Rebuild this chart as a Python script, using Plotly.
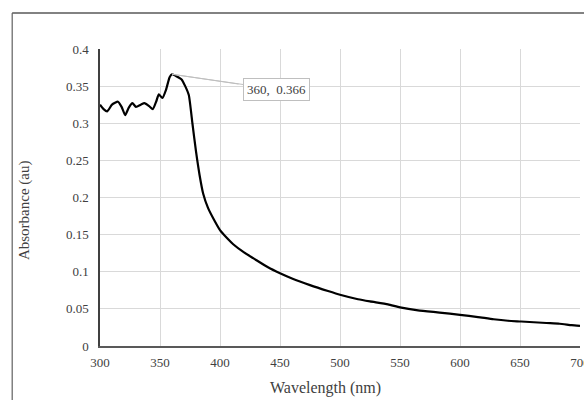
import plotly.graph_objects as go

wavelength = [300, 303, 306, 310, 315, 318, 321, 324, 327, 330, 334, 337, 341, 344,
              347, 349, 352, 355, 358, 360, 364, 368, 371, 374, 377, 380, 383, 386,
              390, 395, 400, 406, 411, 420, 428, 440, 450, 460, 475, 490, 500, 515,
              525, 540, 550, 565, 583, 600, 615, 628, 640, 651, 672, 683, 693, 700]
absorbance = [0.325, 0.319, 0.316, 0.325, 0.329, 0.322, 0.311, 0.321, 0.327, 0.322,
              0.325, 0.327, 0.323, 0.319, 0.330, 0.339, 0.334, 0.345, 0.362, 0.366,
              0.363, 0.359, 0.350, 0.338, 0.300, 0.262, 0.230, 0.205, 0.186, 0.170,
              0.156, 0.145, 0.137, 0.126, 0.118, 0.106, 0.098, 0.091, 0.082, 0.074,
              0.069, 0.063, 0.060, 0.056, 0.052, 0.048, 0.045, 0.042, 0.039, 0.036,
              0.034, 0.033, 0.031, 0.030, 0.028, 0.027]

peak_x, peak_y = 360, 0.366
x_ticks = [300, 350, 400, 450, 500, 550, 600, 650, 700]
y_ticks = [0, 0.05, 0.1, 0.15, 0.2, 0.25, 0.3, 0.35, 0.4]
y_tick_labels = ["0", "0.05", "0.1", "0.15", "0.2", "0.25", "0.3", "0.35", "0.4"]

FONT = "Liberation Serif"
TXT = "#404040"

fig = go.Figure()
fig.add_trace(go.Scatter(
    x=wavelength, y=absorbance, mode="lines",
    line=dict(color="#000000", width=2.2, shape="spline", smoothing=0.5),
    hoverinfo="skip", showlegend=False))

fig.update_layout(
    width=584, height=400,
    margin=dict(l=100, r=4, t=49, b=54, autoexpand=False),
    paper_bgcolor="white", plot_bgcolor="white",
    font=dict(family=FONT, size=13, color=TXT),
    xaxis=dict(range=[300, 700], tickvals=x_ticks, ticktext=[str(v) for v in x_ticks],
               showgrid=True, gridcolor="#d9d9d9", gridwidth=1,
               showline=True, linecolor="#595959", linewidth=1.5,
               zeroline=False, ticks="", ticklabelstandoff=4,
               ticklabeloverflow="allow", automargin=False,
               tickfont=dict(family=FONT, size=13, color=TXT)),
    yaxis=dict(range=[0, 0.4], tickvals=y_ticks, ticktext=y_tick_labels,
               showgrid=True, gridcolor="#d9d9d9", gridwidth=1,
               showline=True, linecolor="#404040", linewidth=1.5,
               zeroline=False, ticks="", ticklabelstandoff=7, automargin=False,
               tickfont=dict(family=FONT, size=13, color=TXT)),
)

# Axis titles
fig.add_annotation(text="Wavelength (nm)", xref="paper", yref="paper",
                   x=0.469, y=-0.141, showarrow=False, xanchor="center", yanchor="middle",
                   font=dict(family=FONT, size=16, color=TXT))
fig.add_annotation(text="Absorbance (au)", xref="paper", yref="paper",
                   x=-0.156, y=0.458, showarrow=False, textangle=-90,
                   xanchor="center", yanchor="middle",
                   font=dict(family=FONT, size=15, color=TXT))

# Data label callout (two leader lines)
fig.add_annotation(x=peak_x, y=peak_y, xref="x", yref="y", text="",
                   showarrow=True, arrowhead=0, arrowwidth=1, arrowcolor="#bfbfbf",
                   ax=68, ay=10, standoff=0)
fig.add_annotation(x=peak_x, y=peak_y, xref="x", yref="y",
                   text=f"{peak_x},  {peak_y}",
                   showarrow=True, arrowhead=0, arrowwidth=1, arrowcolor="#bfbfbf",
                   ax=104, ay=15, standoff=0,
                   bgcolor="white", bordercolor="#bfbfbf", borderwidth=1, borderpad=3,
                   font=dict(family=FONT, size=13, color=TXT))

# Outer chart border (cropped at right/bottom)
fig.add_shape(type="line", xref="paper", yref="paper",
              x0=-0.183, x1=-0.183, y0=1.121, y1=-0.2,
              line=dict(color="#404040", width=1))
fig.add_shape(type="line", xref="paper", yref="paper",
              x0=-0.183, x1=1.01, y0=1.121, y1=1.121,
              line=dict(color="#595959", width=1.5))

fig.write_html("out.html")
